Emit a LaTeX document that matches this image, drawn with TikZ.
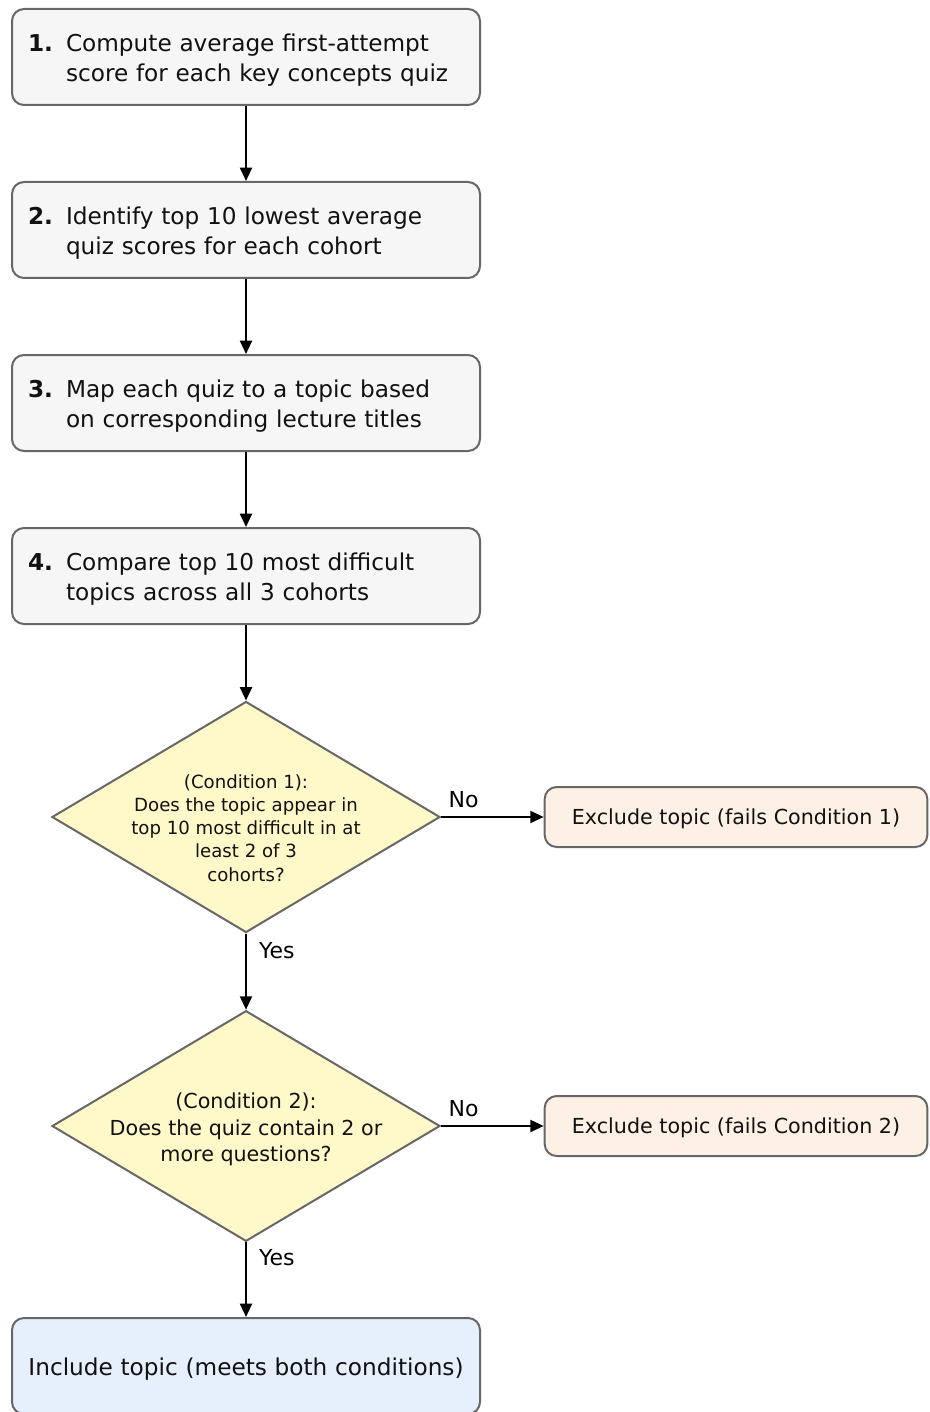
\documentclass[tikz,border=0pt]{standalone}
\usepackage{fontspec}
\setmainfont{DejaVu Sans}
\usetikzlibrary{shapes.geometric,arrows.meta}
\definecolor{StepFill}{HTML}{F6F6F6}
\definecolor{EdgeGrey}{HTML}{676767}
\definecolor{CondFill}{HTML}{FFF8C9}
\definecolor{ExclFill}{HTML}{FDF0E5}
\definecolor{InclFill}{HTML}{E5F0FC}
\definecolor{InkBlack}{HTML}{111111}
\newcommand{\stepnum}[1]{\rule{0pt}{17.5pt}\makebox[28.5pt][l]{\textbf{#1}}}

\begin{document}
\begin{tikzpicture}[x=0.75pt,y=-0.75pt,text=InkBlack,
  stepbox/.style={rectangle,rounded corners=9pt,draw=EdgeGrey,line width=1.5pt,
    fill=StepFill,minimum width=351pt,minimum height=72pt,
    inner xsep=12pt,text width=327pt,align=left,
    font=\fontsize{17.4pt}{22.5pt}\selectfont},
  decision/.style={diamond,draw=EdgeGrey,line width=1.5pt,fill=CondFill,
    aspect=1.68,minimum width=291pt,minimum height=173pt,inner sep=-8pt,
    align=center},
  outbox/.style={rectangle,rounded corners=9pt,draw=EdgeGrey,line width=1.5pt,
    fill=ExclFill,minimum width=287pt,minimum height=45pt,
    font=\fontsize{15.5pt}{19pt}\selectfont},
  flow/.style={-{Triangle[length=10pt,width=9pt]},line width=1.5pt,black},
  branch/.style={font=\fontsize{16.5pt}{20pt}\selectfont,inner sep=0pt}]
  \useasboundingbox (0,0) rectangle (929,1412);

  % Steps 1-4
  \node[stepbox] (s1) at (246,57)
    {\stepnum{1.}Compute average first-attempt\\\hspace*{28.5pt}score for each key concepts quiz};
  \node[stepbox] (s2) at (246,230)
    {\stepnum{2.}Identify top 10 lowest average\\\hspace*{28.5pt}quiz scores for each cohort};
  \node[stepbox] (s3) at (246,403)
    {\stepnum{3.}Map each quiz to a topic based\\\hspace*{28.5pt}on corresponding lecture titles};
  \node[stepbox] (s4) at (246,576)
    {\stepnum{4.}Compare top 10 most difficult\\\hspace*{28.5pt}topics across all 3 cohorts};

  % Condition 1
  \node[decision,font=\fontsize{13.6pt}{17.3pt}\selectfont] (d1) at (246,817)
    {\rule{0pt}{27pt}(Condition 1):\\Does the topic appear in\\top 10 most difficult in at\\least 2 of 3\\cohorts?};
  \node[outbox] (e1) at (736,817) {\rule{0pt}{14pt}Exclude topic (fails Condition 1)};

  % Condition 2
  \node[decision,font=\fontsize{15.5pt}{19.9pt}\selectfont] (d2) at (246,1126)
    {\rule{0pt}{17pt}(Condition 2):\\Does the quiz contain 2 or\\more questions?};
  \node[outbox] (e2) at (736,1126) {\rule{0pt}{14pt}Exclude topic (fails Condition 2)};

  % Result
  \node[stepbox,fill=InclFill,align=center] (inc) at (246,1366)
    {\rule{0pt}{17.5pt}Include topic (meets both conditions)};

  % Arrows
  \draw[flow] (s1) -- (s2);
  \draw[flow] (s2) -- (s3);
  \draw[flow] (s3) -- (s4);
  \draw[flow] (s4) -- (d1);
  \draw[flow] (d1.east) -- node[branch,above=6pt,pos=0.22] {No} (e1.west);
  \draw[flow] (d1.south) -- node[branch,right=9pt,pos=0.23] {Yes} (d2.north);
  \draw[flow] (d2.east) -- node[branch,above=6pt,pos=0.22] {No} (e2.west);
  \draw[flow] (d2.south) -- node[branch,right=9pt,pos=0.2] {Yes} (inc);
\end{tikzpicture}
\end{document}
